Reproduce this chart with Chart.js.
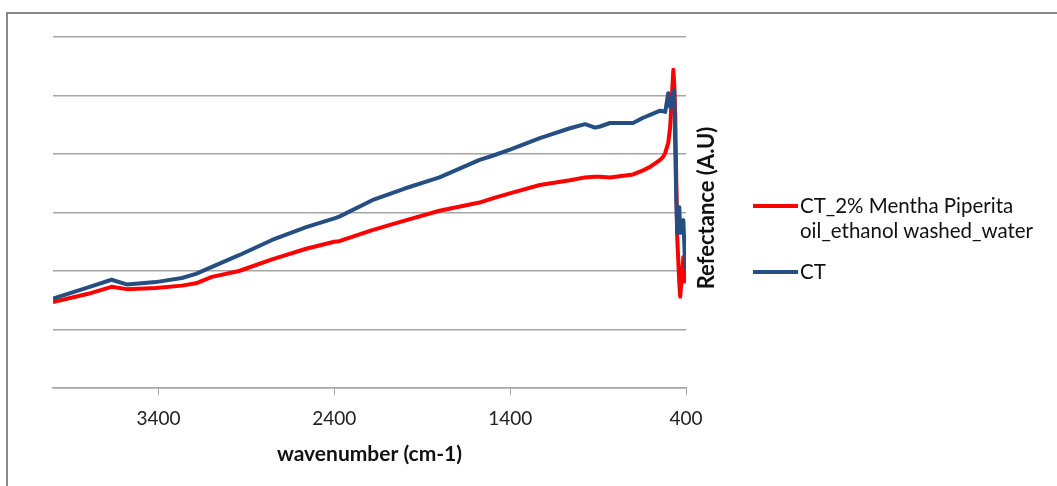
<!DOCTYPE html>
<html>
<head>
<meta charset="utf-8">
<script src="https://cdn.jsdelivr.net/npm/chart.js@4.4.1/dist/chart.umd.min.js"></script>
<style>
  html, body { margin: 0; padding: 0; background: #fff; overflow: hidden; }
  #wrap { position: relative; width: 1057px; height: 486px; }
  #frame { position: absolute; left: 6px; top: 12px; width: 1200px; height: 600px;
           border-left: 2px solid #8a8a8a; border-top: 2px solid #8a8a8a; }
  #legend { position: absolute; left: 753px; top: 193px; font-family: Lato, sans-serif;
            font-size: 20.5px; color: #111; }
  .item { position: relative; padding-left: 47px; line-height: 25px; margin-bottom: 16px; }
  .swatch { position: absolute; left: 0; top: 11px; width: 45px; height: 4px; }
  #ytitle { position: absolute; left: 705px; top: 208px; transform: translate(-50%, -50%) rotate(-90deg);
            font-family: Lato, sans-serif; font-weight: bold; font-size: 22px; color: #111; white-space: nowrap; }
</style>
</head>
<body>
<div id="wrap">
  <div id="frame"></div>
  <canvas id="chart" width="1057" height="486"></canvas>
  <div id="ytitle">Refectance (A.U)</div>
  <div id="legend"></div>
</div>
<script>
const wavenumber = [4000, 3800, 3667, 3581, 3416, 3267, 3187, 3096, 2942, 2754, 2560, 2400, 2372, 2184, 2000,
  1802, 1574, 1500, 1397, 1231, 1060, 974, 917, 889, 832, 701, 644, 604, 547, 530, 518, 501, 490, 472, 467,
  461, 455, 450, 438, 433, 415, 404]

const mentha = [1.47, 1.61, 1.73, 1.69, 1.71, 1.75, 1.79, 1.90, 2.00, 2.20, 2.38, 2.50, 2.51, 2.70, 2.86,
  3.03, 3.17, 3.24, 3.33, 3.47, 3.55, 3.60, 3.61, 3.61, 3.60, 3.65, 3.72, 3.78, 3.90, 3.95, 4.02, 4.19, 4.46, 5.44, 5.20,
  4.63, 3.50, 2.58, 1.79, 1.56, 2.24, 1.79]

const ct = [1.53, 1.72, 1.85, 1.77, 1.81, 1.88, 1.95, 2.07, 2.27, 2.53, 2.75, 2.90, 2.93, 3.21, 3.41,
  3.60, 3.90, 3.97, 4.08, 4.27, 4.44, 4.51, 4.45, 4.47, 4.53, 4.53, 4.62, 4.67, 4.74, 4.73, 4.72, 5.04, 4.80, 4.85, 5.09,
  4.07, 3.21, 2.65, 3.09, 2.65, 2.87, 2.02]

const xTicks = [3400, 2400, 1400, 400]
const seriesNames = ['CT_2% Mentha Piperita\noil_ethanol washed_water', 'CT']
const seriesColors = ['#ff0000', '#254e82']

const toPoints = (vals) => wavenumber.map((w, i) => ({x: w, y: vals[i]}))

const chart = new Chart(document.getElementById('chart'), {
  type: 'line',
  data: {
    datasets: [
      {label: seriesNames[0], data: toPoints(mentha), borderColor: seriesColors[0], borderWidth: 4, order: 1},
      {label: seriesNames[1], data: toPoints(ct), borderColor: seriesColors[1], borderWidth: 4, order: 0}
    ]
  },
  options: {
    responsive: false,
    animation: false,
    elements: {point: {radius: 0}, line: {tension: 0, borderJoinStyle: 'round'}},
    layout: {padding: {left: 53, top: 37, right: 371, bottom: 15}},
    plugins: {legend: {display: false}, tooltip: {enabled: false}},
    scales: {
      x: {
        type: 'linear',
        reverse: true,
        min: 400,
        max: 4000,
        afterBuildTicks: (axis) => { axis.ticks = xTicks.map(v => ({value: v})) },
        grid: {drawOnChartArea: false, drawTicks: true, tickLength: 7, color: '#a6a6a6'},
        border: {display: true, color: '#a6a6a6', width: 1.5},
        ticks: {padding: 12, color: '#222', font: {family: 'Lato', size: 19}, maxRotation: 0,
          callback: (v) => String(v)},
        title: {display: true, text: 'wavenumber (cm-1)', color: '#111',
          font: {family: 'Lato', size: 21, weight: 'bold'}, padding: {top: 0, bottom: 4}}
      },
      y: {
        position: 'right',
        min: 0,
        max: 6,
        ticks: {display: false, stepSize: 1},
        grid: {drawTicks: false, color: '#a6a6a6', lineWidth: 1.5},
        border: {display: false}
      }
    }
  }
})

const legend = document.getElementById('legend')
chart.data.datasets.forEach(ds => {
  const item = document.createElement('div')
  item.className = 'item'
  const sw = document.createElement('span')
  sw.className = 'swatch'
  sw.style.background = ds.borderColor
  item.appendChild(sw)
  ds.label.split('\n').forEach(line => {
    const d = document.createElement('div')
    d.textContent = line
    item.appendChild(d)
  })
  legend.appendChild(item)
})
</script>
</body>
</html>
